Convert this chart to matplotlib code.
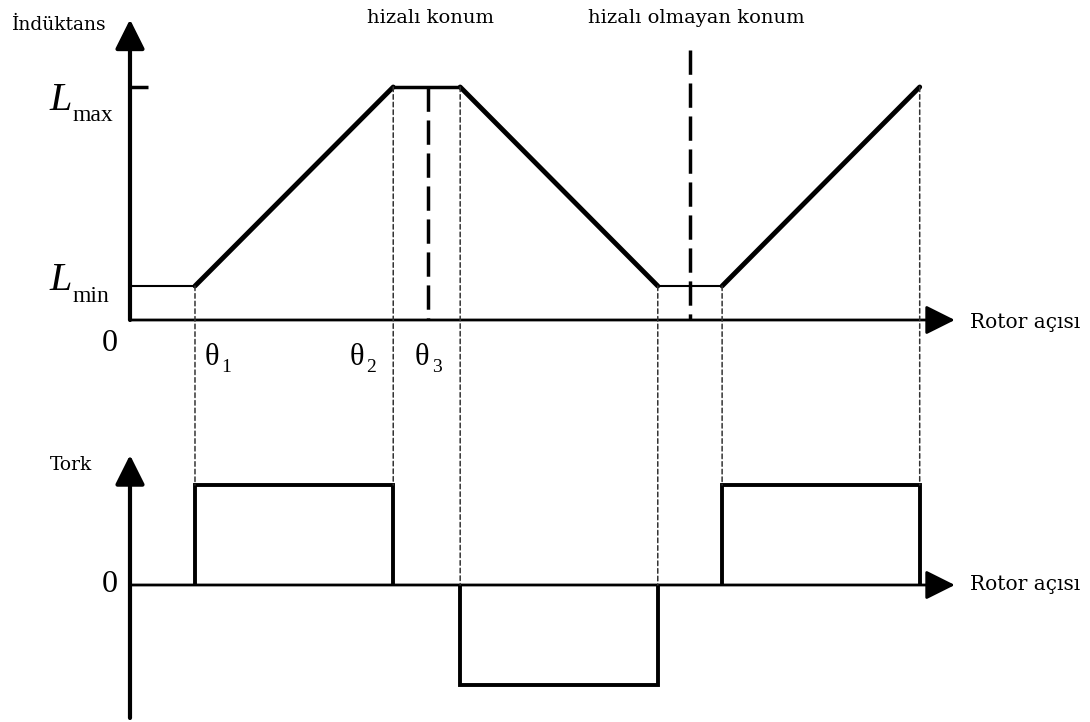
import matplotlib.pyplot as plt
from matplotlib.patches import ConnectionPatch

# rotor acilari (keyfi birim)
teta1 = 10.0
teta2 = 40.5
teta3 = 45.8      # hizali konum
teta4 = 50.8
teta5 = 81.2
hizasiz = 86.2    # hizali olmayan konum
teta6 = 91.1
son = 121.5

Lmin = 0.146
Lmax = 1.0

# enduktans profili
aci_L = [0, teta1, teta2, teta4, teta5, teta6, son]
L = [Lmin, Lmin, Lmax, Lmax, Lmin, Lmin, Lmax]

# tork profili
aci_T = [0, teta1, teta1, teta2, teta2, teta4, teta4, teta5, teta5, teta6, teta6, son, son]
T = [0, 0, 1, 1, 0, 0, -1, -1, 0, 0, 1, 1, 0]

# kesikli baglanti cizgileri: (aci, L seviyesi, tork seviyesi)
baglanti = [(teta1, Lmin, 1), (teta2, Lmax, 1), (teta4, Lmax, 0),
            (teta5, Lmin, 0), (teta6, Lmin, 1), (son, Lmax, 1)]

serif = 'DejaVu Serif'
times = 'Liberation Serif'

fig = plt.figure(figsize=(10.9, 7.22), dpi=100)
ax1 = fig.add_axes([0, 0.4737, 1, 0.5263])
ax2 = fig.add_axes([0, 0, 1, 0.4737])
for ax in (ax1, ax2):
    ax.set_xlim(-20, 147.7)
    ax.axis('off')
ax1.set_ylim(-0.2575, 1.3734)
ax2.set_ylim(-1.37, 2.05)

ok = dict(arrowstyle='-|>,head_length=0.6,head_width=0.3', mutation_scale=30,
          color='black', shrinkA=0, shrinkB=0)

# ust grafik eksenleri
ax1.annotate('', xy=(0, 1.29), xytext=(0, 0), arrowprops=dict(lw=3, **ok))
ax1.annotate('', xy=(126.9, 0), xytext=(0, 0), arrowprops=dict(lw=2, **ok))
ax1.plot([0, 2.8], [Lmax, Lmax], color='black', lw=2.5, solid_capstyle='butt')

# enduktans egrisi
for i in range(len(aci_L) - 1):
    x = aci_L[i:i + 2]
    y = L[i:i + 2]
    if y[0] == y[1] == Lmin:
        w = 1.5
    elif y[0] == y[1] == Lmax:
        w = 2.5
    else:
        w = 3.5
    ax1.plot(x, y, color='black', lw=w, solid_capstyle='round')

# hizali / hizali olmayan konum cizgileri
ax1.plot([teta3, teta3], [Lmax, 0], color='black', lw=2.5, dashes=(7, 2.5))
ax1.plot([hizasiz, hizasiz], [1.16, 0], color='black', lw=2.5, dashes=(7, 2.5))

# alt grafik eksenleri
ax2.annotate('', xy=(0, 1.30), xytext=(0, -1.33), arrowprops=dict(lw=3, **ok))
ax2.annotate('', xy=(126.9, 0), xytext=(0, 0), arrowprops=dict(lw=2, **ok))

# tork darbeleri (sifir cizgisi eksenle cakisiyor, onu tekrar cizme)
darbe_x, darbe_y = [], []
for i in range(len(aci_T)):
    darbe_x.append(aci_T[i])
    darbe_y.append(T[i])
    son_nokta = i == len(aci_T) - 1
    if son_nokta or (T[i] == 0 and T[i + 1] == 0):
        if len(darbe_x) > 1:
            ax2.plot(darbe_x, darbe_y, color='black', lw=2.8,
                     solid_capstyle='butt', solid_joinstyle='miter')
        darbe_x, darbe_y = [], []

for x, l, t in baglanti:
    cp = ConnectionPatch(xyA=(x, l), coordsA=ax1.transData,
                         xyB=(x, t), coordsB=ax2.transData,
                         color='#333333', lw=1.1, linestyle=(0, (3, 2)))
    fig.add_artist(cp)

# yazilar
ax1.text(-18.15, 1.266, 'İndüktans', family=serif, fontsize=13.5, ha='left', va='center')
ax1.text(46.2, 1.296, 'hizalı konum', family=serif, fontsize=14, ha='center', va='center')
ax1.text(87.2, 1.296, 'hizalı olmayan konum', family=serif, fontsize=14, ha='center', va='center')
ax1.text(129.2, -0.009, 'Rotor açısı', family=serif, fontsize=14.5, ha='left', va='center')

ax1.text(-8.92, 0.901, 'L', family=times, style='italic', fontsize=29, ha='right', va='baseline')
ax1.text(-8.77, 0.854, 'max', family=times, fontsize=17, ha='left', va='baseline')
ax1.text(-8.92, 0.129, 'L', family=times, style='italic', fontsize=29, ha='right', va='baseline')
ax1.text(-8.77, 0.077, 'min', family=times, fontsize=17, ha='left', va='baseline')
ax1.text(-3.08, -0.103, '0', family=times, fontsize=23, ha='center', va='center')

# teta etiketleri: teta + alt indis
for x, s in [(11.5, '1'), (33.8, '2'), (43.8, '3')]:
    ax1.text(x, -0.193, 'θ', family=times, fontsize=22, ha='left', va='baseline')
    ax1.text(x + 2.6, -0.225, s, family=times, fontsize=14, ha='left', va='baseline')

ax2.text(-12.3, 1.2, 'Tork', family=serif, fontsize=13.5, ha='left', va='center')
ax2.text(-3.08, 0, '0', family=times, fontsize=23, ha='center', va='center')
ax2.text(129.2, 0, 'Rotor açısı', family=serif, fontsize=14.5, ha='left', va='center')

fig.savefig('out.png', dpi=100)
